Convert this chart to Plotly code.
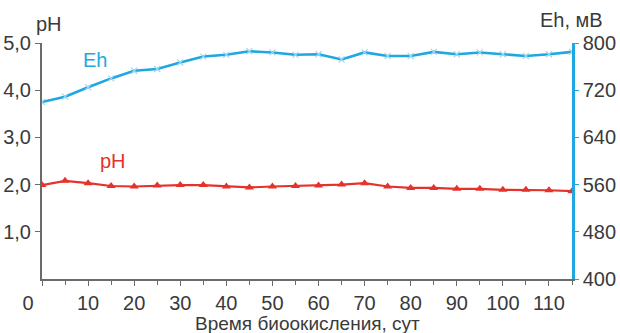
import plotly.graph_objects as go

days = list(range(0, 120, 5))
ph = [1.99, 2.08, 2.03, 1.97, 1.96, 1.98, 1.99, 1.99, 1.96, 1.94, 1.96, 1.97,
      1.98, 2.00, 2.03, 1.96, 1.93, 1.93, 1.91, 1.91, 1.89, 1.89, 1.88, 1.86]
eh = [700, 709, 725, 740, 753, 756, 767, 777, 780, 786, 784, 780,
      781, 772, 784, 778, 778, 785, 781, 784, 781, 778, 781, 785]

ph_ticks = [1, 2, 3, 4, 5]
ph_labels = ["1,0", "2,0", "3,0", "4,0", "5,0"]
eh_ticks = [400, 480, 560, 640, 720, 800]
x_ticks = list(range(0, 120, 10))
x_labels = ["0\u00a0\u00a0\u00a0\u00a0\u00a0"] + [str(v) for v in x_ticks[1:]]

BLUE = "#1fa8e0"
RED = "#e5322b"
GRAY = "#6b6b6b"
TXT = "#3a3a3a"
FONT = "Liberation Sans, Arial, sans-serif"
FS = 20

fig = go.Figure()
fig.add_trace(go.Scatter(x=days, y=ph, mode="lines+markers", yaxis="y",
                         line=dict(color=RED, width=2.2),
                         marker=dict(symbol="triangle-up", size=8, color=RED),
                         showlegend=False))
fig.add_trace(go.Scatter(x=days, y=eh, mode="lines+markers", yaxis="y2",
                         line=dict(color=BLUE, width=2.6),
                         marker=dict(symbol="x-thin", size=6, color="#9fd8f0",
                                     line=dict(color="#9fd8f0", width=1.2)),
                         showlegend=False))

fig.update_layout(
    width=620, height=333,
    margin=dict(l=42, r=48, t=43, b=54, autoexpand=False),
    plot_bgcolor="white", paper_bgcolor="white",
    font=dict(family=FONT, size=FS, color=TXT),
    xaxis=dict(range=[0, 115], tickvals=x_ticks, ticktext=x_labels, ticks="outside",
               ticklen=5, tickcolor=GRAY, showline=True, linecolor=GRAY, linewidth=2,
               showgrid=False, zeroline=False, automargin=False,
               minor=dict(dtick=5, tick0=0, ticks="outside", ticklen=4, tickcolor=GRAY),
               tickfont=dict(size=FS, color=TXT)),
    yaxis=dict(range=[0, 5], tickvals=ph_ticks, ticktext=ph_labels, ticks="outside",
               ticklen=5, tickcolor=GRAY, showline=True, linecolor=GRAY, linewidth=2,
               showgrid=False, zeroline=False, automargin=False,
               tickfont=dict(size=FS, color=TXT)),
    yaxis2=dict(range=[400, 800], tickvals=eh_ticks, overlaying="y", side="right",
                ticks="outside", ticklen=4, tickcolor=BLUE, showline=True,
                linecolor=BLUE, linewidth=2.5, showgrid=False, zeroline=False,
                automargin=False, tickfont=dict(size=FS, color=TXT)),
    annotations=[
        dict(text="Время биоокисления, сут", xref="paper", yref="paper", x=0.5, y=0,
             xanchor="center", yanchor="top", yshift=-32, showarrow=False,
             font=dict(size=19, color=TXT)),
        dict(text="pH", xref="paper", yref="paper", x=-0.015, y=1.0, xanchor="left",
             yanchor="bottom", yshift=6, showarrow=False, font=dict(size=FS, color=TXT)),
        dict(text="Eh, мВ", xref="paper", yref="paper", x=0.935, y=1.0, xanchor="left",
             yanchor="bottom", yshift=10, showarrow=False, font=dict(size=FS, color=TXT)),
        dict(text="Eh", xref="x", yref="y", x=11.5, y=4.65, showarrow=False,
             font=dict(size=FS, color=BLUE)),
        dict(text="pH", xref="x", yref="y", x=15.5, y=2.5, showarrow=False,
             font=dict(size=FS, color=RED)),
    ],
)

fig.write_html("out.html")
